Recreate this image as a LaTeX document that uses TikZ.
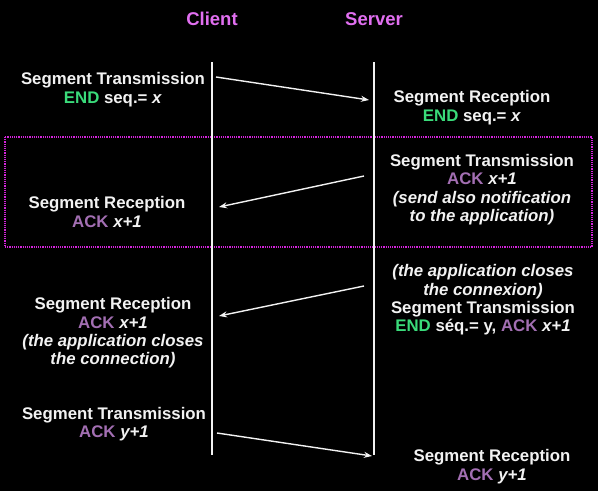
\documentclass[tikz,border=0pt]{standalone}
\usepackage{fontspec}
\setmainfont{Liberation Sans}
\usetikzlibrary{arrows.meta}
\definecolor{txt}{HTML}{F2F2F2}
\definecolor{endg}{HTML}{3ADB7A}
\definecolor{ackp}{HTML}{A36FB3}
\definecolor{ttl}{HTML}{E16FF0}
\definecolor{boxm}{HTML}{D324DA}
\tikzset{
  lbl/.style={text=txt, font=\bfseries\fontsize{16.8}{18.4}\selectfont, align=center, inner sep=0pt},
  ttlbl/.style={text=ttl, font=\bfseries\fontsize{18.5}{20}\selectfont, inner sep=0pt},
  lifeline/.style={draw=txt, line width=2.4pt},
  msg/.style={draw=txt, line width=1.4pt, -{Stealth[length=8pt,width=6pt]}},
  grp/.style={draw=boxm, line width=1.3pt, dash pattern=on 1.2pt off 1pt}
}
\newcommand{\END}{\textcolor{endg}{END}}
\newcommand{\ACK}{\textcolor{ackp}{ACK}}
\begin{document}
\begin{tikzpicture}[x=1pt,y=-1pt]
\fill[black] (0,0) rectangle (598,491);
\useasboundingbox (0,0) rectangle (598,491);
% titles
\node[ttlbl] (client) at (212,19) {Client};
\node[ttlbl] (server) at (374,19) {Server};
% group box
\draw[grp] (5,137) rectangle (592,247);
% lifelines
\coordinate (ct) at (212,62);
\coordinate (cb) at (212,455);
\coordinate (st) at (374,62);
\coordinate (sb) at (374,455);
\draw[lifeline] (ct) -- (cb);
\draw[lifeline] (st) -- (sb);
% message end points
\coordinate (a1s) at (216,77);
\coordinate (a1e) at (369,100);
\coordinate (a2s) at (364,176);
\coordinate (a2e) at (219,207);
\coordinate (a3s) at (364,286);
\coordinate (a3e) at (219,316);
\coordinate (a4s) at (217,433);
\coordinate (a4e) at (372,456);
\draw[msg] (a1s) -- (a1e);
\draw[msg] (a2s) -- (a2e);
\draw[msg] (a3s) -- (a3e);
\draw[msg] (a4s) -- (a4e);
% texts
\node[lbl] (c1) at (113,89.5) {Segment Transmission\\ \END{} seq.= \textit{x}};
\node[lbl] (s1) at (472,107.5) {Segment Reception\\ \END{} seq.= \textit{x}};
\node[lbl] (s2) at (482,189.5) {Segment Transmission\\ \ACK{} \textit{x+1}\\ \textit{(send also notification}\\ \textit{to the application)}};
\node[lbl] (c2) at (107,212) {Segment Reception\\ \ACK{} \textit{x+1}};
\node[lbl] (s3) at (483,300) {\textit{(the application closes}\\ \textit{the connexion)}\\ Segment Transmission\\ \END{} séq.= y, \ACK{} \textit{x+1}};
\node[lbl] (c3) at (113,333) {Segment Reception\\ \ACK{} \textit{x+1}\\ \textit{(the application closes}\\ \textit{the connection)}};
\node[lbl] (c4) at (114,424) {Segment Transmission\\ \ACK{} \textit{y+1}};
\node[lbl] (s4) at (492,466.5) {Segment Reception\\ \ACK{} \textit{y+1}};
\end{tikzpicture}
\end{document}
